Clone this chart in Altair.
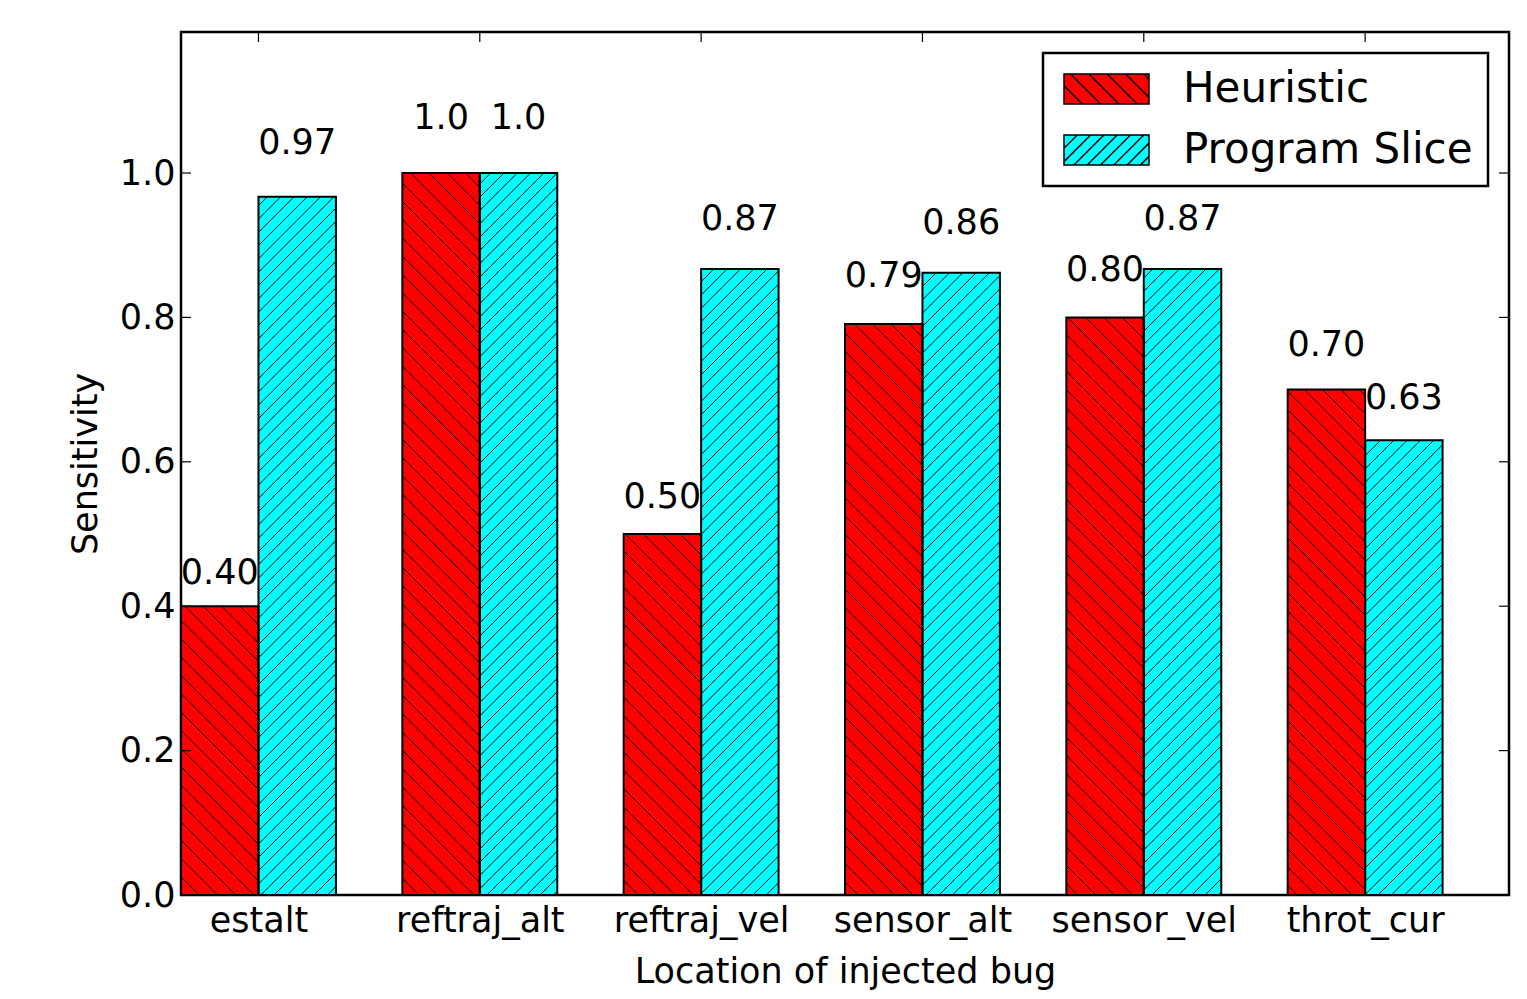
import json
import math
import altair as alt
import pandas as pd

# ---- data ----
categories = ["estalt", "reftraj_alt", "reftraj_vel", "sensor_alt", "sensor_vel", "throt_cur"]
heuristic = [0.40, 1.00, 0.50, 0.791, 0.80, 0.70]
program_slice = [0.967, 1.00, 0.867, 0.862, 0.867, 0.63]
heuristic_labels = ["0.40", "1.0", "0.50", "0.79", "0.80", "0.70"]
slice_labels = ["0.97", "1.0", "0.87", "0.86", "0.87", "0.63"]
series_names = ["Heuristic", "Program Slice"]
series_colors = ["#FF0000", "#00FFFF"]
y_ticks = [0.0, 0.2, 0.4, 0.6, 0.8, 1.0]

# ---- geometry / style ----
W, H = 1328, 863
XMAX, YMAX = 6.0, 1.1953
BAR_W = 0.35
SX, SY = W / XMAX, H / YMAX
FONT = "DejaVu Sans"
FS = 35
RED_SP, CYAN_SP = 18.3, 13.3

rows = []
for i, c in enumerate(categories):
    rows.append(dict(cat=c, series=series_names[0], x0=i, x1=i + BAR_W,
                     v=heuristic[i], lab=heuristic_labels[i]))
    rows.append(dict(cat=c, series=series_names[1], x0=i + BAR_W, x1=i + 2 * BAR_W,
                     v=program_slice[i], lab=slice_labels[i]))
bars = pd.DataFrame(rows)
bars["y0"] = 0.0
bars["xm"] = (bars.x0 + bars.x1) / 2
bars["ylab"] = bars.v * 1.05


def hatch(x0, x1, h, sp, back):
    X0, X1, Yt = x0 * SX, x1 * SX, h * SY
    segs = []
    if back:  # '\' : y = -x + c
        c = math.floor(X0 / sp) * sp
        while c <= X1 + Yt + sp:
            xs, xe = max(X0, c - Yt), min(X1, c)
            if xe - xs > 0.5:
                segs.append((xs, c - xs, xe, c - xe))
            c += sp
    else:  # '/' : y = x - c
        c = math.floor((X0 - Yt) / sp) * sp
        while c <= X1 + sp:
            xs, xe = max(X0, c), min(X1, c + Yt)
            if xe - xs > 0.5:
                segs.append((xs, xs - c, xe, xe - c))
            c += sp
    return [dict(x=a / SX, y=b / SY, x2=cc / SX, y2=d / SY) for a, b, cc, d in segs]


hrows = []
for _, r in bars.iterrows():
    back = r.series == series_names[0]
    hrows += hatch(r.x0, r.x1, r.v, RED_SP if back else CYAN_SP, back)
hatch_df = pd.DataFrame(hrows)

# legend swatch: symbol "size" is 30px (unit = 15px); path drawn 85px wide x 30px tall
SW_H, SW_W = 30.0, 85.0
UNIT = SW_H / 2


def legend_path(sp_px, back):
    left, right = -1.0, -1.0 + SW_W / UNIT
    top, bot = -1.0, 1.0
    sp = sp_px / UNIT
    parts = [f"M{left:.4f},{top:.4f}L{right:.4f},{top:.4f}L{right:.4f},{bot:.4f}L{left:.4f},{bot:.4f}Z"]
    c = left - 2 - sp
    while c < right + 2 + sp:
        xs, xe = max(left, c), min(right, c + 2)
        if xe - xs > 0.01:
            if back:  # screen '\'
                parts.append(f"M{xs:.4f},{xs - c - 1:.4f}L{xe:.4f},{xe - c - 1:.4f}")
            else:  # screen '/'
                parts.append(f"M{xs:.4f},{1 - (xs - c):.4f}L{xe:.4f},{1 - (xe - c):.4f}")
        c += sp
    return "".join(parts)


p_red = legend_path(RED_SP, True)
p_cyan = legend_path(CYAN_SP, False)

xscale = alt.Scale(domain=[0, XMAX], nice=False, zero=False)
yscale = alt.Scale(domain=[0, YMAX], nice=False)

label_expr = f"{json.dumps(categories)}[round(datum.value - {BAR_W})]"

x_axis = alt.Axis(values=[i + BAR_W for i in range(len(categories))], labelExpr=label_expr,
                  title="Location of injected bug", ticks=False, domain=False, grid=False,
                  labelFontSize=FS, titleFontSize=FS, labelPadding=8, titlePadding=16,
                  labelLimit=500, labelOverlap=False,
                  labelColor="black", titleColor="black", titleFontWeight="normal",
                  labelFont=FONT, titleFont=FONT)
y_axis = alt.Axis(values=y_ticks, format=".1f", title="Sensitivity", ticks=False, domain=False,
                  grid=False, labelFontSize=FS, titleFontSize=FS, labelPadding=6, titlePadding=16,
                  labelColor="black", titleColor="black", titleFontWeight="normal",
                  labelFont=FONT, titleFont=FONT)

legend = alt.Legend(
    title=None, orient="top-right", offset=21, padding=15, strokeColor="black",
    fillColor="white", labelFontSize=42, labelFont=FONT, labelColor="black", labelLimit=500,
    symbolSize=SW_H * SW_H, labelOffset=SW_W - SW_H + 28, rowPadding=19,
    symbolStrokeColor="black", symbolStrokeWidth=1.5, symbolOpacity=1,
    symbolType=alt.ExprRef(expr=f"datum.value === '{series_names[0]}' ? '{p_red}' : '{p_cyan}'"),
)

base = alt.Chart(bars)

fills = base.mark_rect(strokeWidth=0).encode(
    x=alt.X("x0:Q", scale=xscale, axis=x_axis),
    x2="x1:Q",
    y=alt.Y("y0:Q", scale=yscale, axis=y_axis),
    y2="v:Q",
    color=alt.Color("series:N", scale=alt.Scale(domain=series_names, range=series_colors),
                    legend=legend),
)

hatches = alt.Chart(hatch_df).mark_rule(color="black", strokeWidth=1).encode(
    x=alt.X("x:Q", scale=xscale), x2="x2:Q",
    y=alt.Y("y:Q", scale=yscale), y2="y2:Q",
)

outlines = base.mark_rect(fillOpacity=0, stroke="black", strokeWidth=2).encode(
    x=alt.X("x0:Q", scale=xscale), x2="x1:Q",
    y=alt.Y("y0:Q", scale=yscale), y2="v:Q",
)

labels = base.mark_text(fontSize=FS, font=FONT, color="black", baseline="alphabetic",
                        align="center", dy=-8).encode(
    x=alt.X("xm:Q", scale=xscale),
    y=alt.Y("ylab:Q", scale=yscale),
    text="lab:N",
)

ytick_df = pd.DataFrame({"v": y_ticks})
xtick_df = pd.DataFrame({"v": [i + BAR_W for i in range(len(categories))]})

left_ticks = alt.Chart(ytick_df).mark_rule(color="black", strokeWidth=1.2).encode(
    y=alt.Y("v:Q", scale=yscale), x=alt.value(0), x2=alt.value(10))
right_ticks = alt.Chart(ytick_df).mark_rule(color="black", strokeWidth=1.2).encode(
    y=alt.Y("v:Q", scale=yscale), x=alt.value(W - 10), x2=alt.value(W))
top_ticks = alt.Chart(xtick_df).mark_rule(color="black", strokeWidth=1.2).encode(
    x=alt.X("v:Q", scale=xscale), y=alt.value(0), y2=alt.value(10))
bottom_ticks = alt.Chart(xtick_df).mark_rule(color="black", strokeWidth=1.2).encode(
    x=alt.X("v:Q", scale=xscale), y=alt.value(H - 10), y2=alt.value(H))

chart = alt.layer(
    fills, hatches, outlines, labels, left_ticks, right_ticks, top_ticks, bottom_ticks
).properties(
    width=W, height=H,
    autosize=alt.AutoSizeParams(type="none"),
    padding={"left": 173, "top": 24, "right": 10, "bottom": 96},
).configure(
    font=FONT, background="white",
    view=alt.ViewConfig(stroke="black", strokeWidth=2.5),
    legend=alt.LegendConfig(strokeWidth=2.5),
)

chart.save("out.html", embed_options={"renderer": "svg", "actions": False})
